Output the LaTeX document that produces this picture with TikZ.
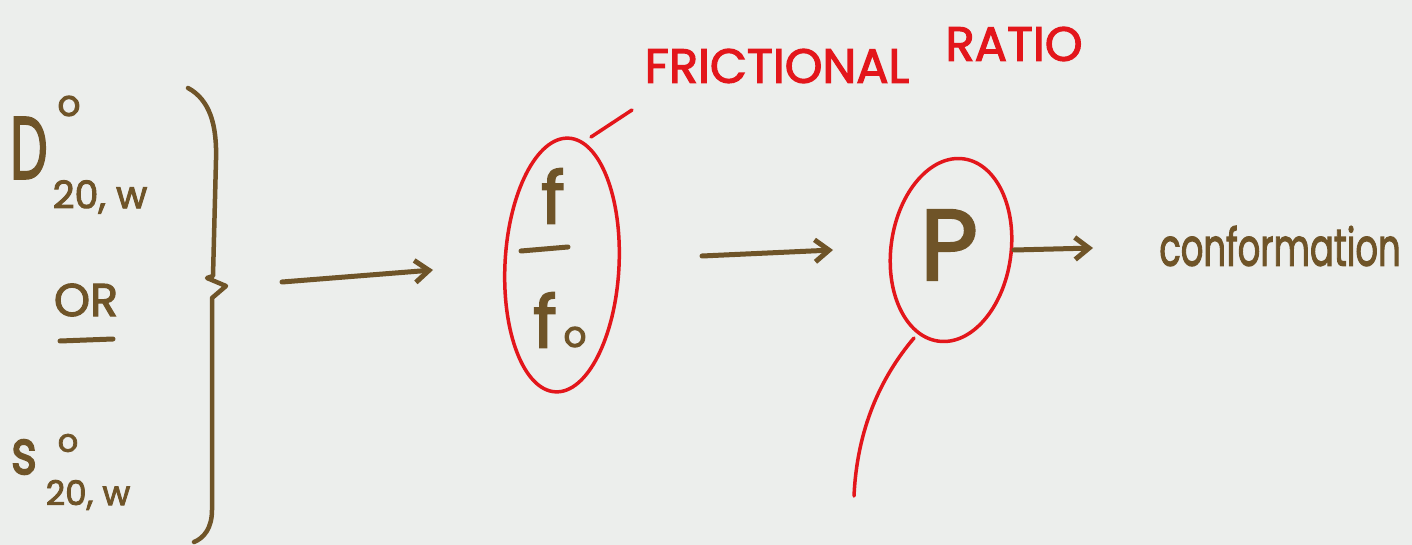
\documentclass[tikz,border=0pt]{standalone}
\usepackage{fontspec}
\setmainfont{Poppins}
\newfontfamily\marker{Poppins}[FakeBold=2.5]
\usetikzlibrary{arrows.meta}
\definecolor{ink}{HTML}{6F5428}
\definecolor{redink}{HTML}{E3161B}
\definecolor{board}{HTML}{ECEEEC}
\tikzset{
  brownline/.style={draw=ink, line width=5pt, line cap=round, line join=round},
  redline/.style={draw=redink, line width=3.5pt, line cap=round, line join=round},
  arr/.style={brownline, -{Straight Barb[length=14pt, width=22pt, line width=5pt]}},
  txt/.style={text=ink, inner sep=0pt, anchor=center, font=\marker},
  rtxt/.style={text=redink, inner sep=0pt, anchor=center, font=\marker},
}
\newcommand{\fs}[1]{\fontsize{#1}{#1}\selectfont}
\begin{document}
\begin{tikzpicture}[x=1pt, y=-1pt]
\useasboundingbox (0,0) rectangle (1412,545);
\fill[board] (0,0) rectangle (1412,545);
% left column
\node[txt, xscale=0.6] (D) at (29,148) {\fs{88}D};
\node[txt] (Dsup) at (69,106) {\fs{36}o};
\node[txt] (Dsub) at (100,197) {\fs{38}20, w};
\node[txt] (or) at (86,300) {\fs{46}OR};
\coordinate (ul1) at (60,341);
\coordinate (ul2) at (113,339);
\draw[brownline] (ul1) -- (ul2);
\node[txt, xscale=0.8] (S) at (24,457) {\fs{62}s};
\node[txt] (Ssup) at (68,443) {\fs{32}o};
\node[txt] (Ssub) at (88,495) {\fs{34}20, w};
% brace
\coordinate (b0) at (188,88);
\coordinate (b1) at (216,160);
\coordinate (b2) at (213,276);
\coordinate (bt) at (226,286);
\coordinate (b3) at (212,298);
\coordinate (b4) at (212,510);
\coordinate (b5) at (194,542);
\draw[brownline, line width=4.5pt] (b0) .. controls (210,100) and (217,125) .. (b1)
  -- (b2) -- (207,278) -- (bt) -- (b3) -- (b4) .. controls (212,528) and (204,538) .. (b5);
% fraction
\node[txt] (f) at (553,196) {\fs{72}f};
\coordinate (bar1) at (521,251);
\coordinate (bar2) at (568,247);
\draw[brownline] (bar1) -- (bar2);
\node[txt] (f0) at (545,320) {\fs{72}f};
\node[txt] (zero) at (575,337) {\fs{36}o};
\draw[redline] (562,265) ellipse[x radius=57, y radius=127, rotate=-3];
\coordinate (fr1) at (591,137);
\coordinate (fr2) at (632,110);
\draw[redline] (fr1) -- (fr2);
\node[rtxt] (frl) at (777,66) {\fs{48}FRICTIONAL};
\node[rtxt] (ratio) at (1014,44) {\fs{48}RATIO};
% arrows
\coordinate (a1s) at (282,282);
\coordinate (a1e) at (433,270);
\draw[arr] (a1s) -- (a1e);
\coordinate (a2s) at (702,256);
\coordinate (a2e) at (833,250);
\draw[arr] (a2s) -- (a2e);
% P
\node[txt] (P) at (949,245) {\fs{100}P};
\draw[redline] (951,250) ellipse[x radius=60, y radius=92, rotate=-8];
\coordinate (t1) at (914,338);
\coordinate (t2) at (854,496);
\draw[redline] (t1) .. controls (880,378) and (857,430) .. (t2);
\coordinate (a3s) at (1014,250);
\coordinate (a3e) at (1093,248);
\draw[arr] (a3s) -- (a3e);
\node[txt, xscale=0.68] (conf) at (1280,246) {\fs{52}conformation};
\end{tikzpicture}
\end{document}
